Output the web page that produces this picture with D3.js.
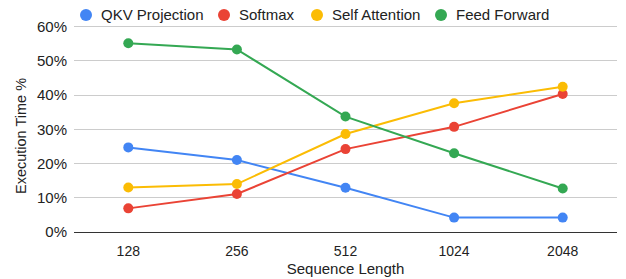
<!DOCTYPE html>
<html>
<head>
<meta charset="utf-8">
<script src="https://cdn.jsdelivr.net/npm/d3@7/dist/d3.min.js"></script>
<style>
  body { margin: 0; background: #fff; }
  text { font-family: "Liberation Sans", Arial, sans-serif; fill: #222; }
</style>
</head>
<body>
<div id="chart"></div>
<script>
var categories = ["128", "256", "512", "1024", "2048"];
var qkv = [24.7, 21.0, 12.9, 4.2, 4.2];
var softmax = [6.9, 11.1, 24.2, 30.7, 40.3];
var selfAttn = [13.0, 14.0, 28.6, 37.6, 42.4];
var feedFwd = [55.1, 53.3, 33.7, 23.0, 12.7];
var yTicks = [0, 10, 20, 30, 40, 50, 60];

var series = [
  {name: "QKV Projection", values: qkv, color: "#4285F4"},
  {name: "Softmax", values: softmax, color: "#EA4335"},
  {name: "Self Attention", values: selfAttn, color: "#FBBC04"},
  {name: "Feed Forward", values: feedFwd, color: "#34A853"}
];

var width = 626, height = 279;
var margin = {top: 26.5, right: 9, bottom: 47, left: 74};

var svg = d3.select("#chart").append("svg")
  .attr("width", width).attr("height", height);

var x = d3.scalePoint().domain(categories)
  .range([margin.left, width - margin.right]).padding(0.5);
var y = d3.scaleLinear().domain([0, 60])
  .range([height - margin.bottom, margin.top]);

// grid
svg.append("g").selectAll("line").data(yTicks).enter().append("line")
  .attr("x1", margin.left).attr("x2", width - margin.right)
  .attr("y1", function(d){ return y(d); }).attr("y2", function(d){ return y(d); })
  .attr("stroke", function(d){ return d == 0 ? "#333333" : "#cccccc"; })
  .attr("stroke-width", 1)
  .style("shape-rendering", "crispEdges");

svg.append("g").selectAll("text").data(yTicks).enter().append("text")
  .attr("x", margin.left - 7).attr("y", function(d){ return y(d); })
  .attr("dy", "0.35em").attr("text-anchor", "end")
  .style("font-size", "15px")
  .text(function(d){ return d + "%"; });

svg.append("g").selectAll("text").data(categories).enter().append("text")
  .attr("x", function(d){ return x(d); }).attr("y", height - margin.bottom + 24)
  .attr("text-anchor", "middle")
  .style("font-size", "14px")
  .text(function(d){ return d; });

svg.append("text")
  .attr("x", (margin.left + width - margin.right) / 2).attr("y", 274)
  .attr("text-anchor", "middle").style("font-size", "15px")
  .text("Sequence Length");

svg.append("text")
  .attr("transform", "translate(26," + 136 + ") rotate(-90)")
  .attr("text-anchor", "middle").style("font-size", "14.5px")
  .text("Execution Time %");

var line = d3.line()
  .x(function(d, i){ return x(categories[i]); })
  .y(function(d){ return y(d); });

var groups = svg.append("g").selectAll("g").data(series).enter().append("g");
groups.append("path")
  .attr("d", function(d){ return line(d.values); })
  .attr("fill", "none")
  .attr("stroke", function(d){ return d.color; })
  .attr("stroke-width", 2);
groups.selectAll("circle").data(function(d){
    return d.values.map(function(v, i){ return {v: v, i: i, color: d.color}; });
  }).enter().append("circle")
  .attr("cx", function(d){ return x(categories[d.i]); })
  .attr("cy", function(d){ return y(d.v); })
  .attr("r", 5)
  .attr("fill", function(d){ return d.color; });

// legend
var legendX = [86, 224, 317, 441];
var legend = svg.append("g").selectAll("g").data(series).enter().append("g")
  .attr("transform", function(d, i){ return "translate(" + legendX[i] + ",15)"; });
legend.append("circle").attr("r", 6).attr("fill", function(d){ return d.color; });
legend.append("text").attr("x", 15).attr("dy", "0.35em")
  .style("font-size", "15px")
  .text(function(d){ return d.name; });
</script>
</body>
</html>
